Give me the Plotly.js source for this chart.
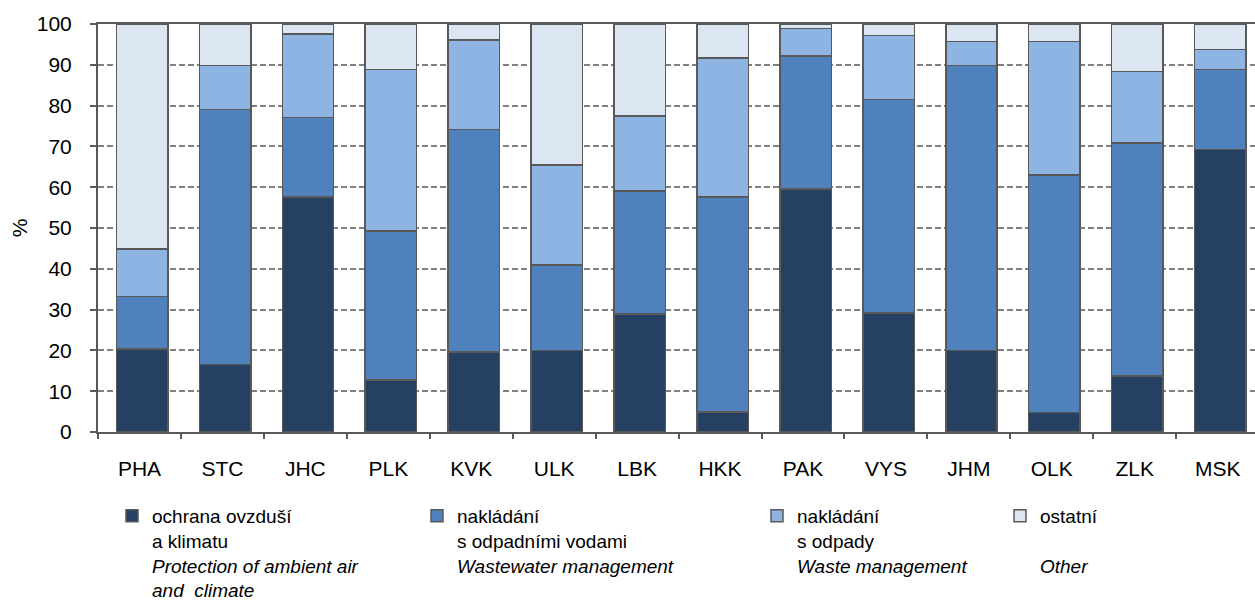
<!DOCTYPE html>
<html>
<head>
<meta charset="utf-8">
<script src="https://cdn.plot.ly/plotly-3.0.1.min.js"></script>
<style>html,body{margin:0;padding:0;background:#fff;}#chart{width:1255px;height:601px;}</style>
</head>
<body>
<div id="chart"></div>
<script>
// Regions (kraje)
var regions = ["PHA","STC","JHC","PLK","KVK","ULK","LBK","HKK","PAK","VYS","JHM","OLK","ZLK","MSK"];

// Shares in %
var airClimate   = [20.4, 16.6, 57.6, 12.7, 19.6, 20.0, 28.9,  4.9, 59.6, 29.2, 20.0,  4.8, 13.7, 69.3];
var wastewater   = [12.8, 62.5, 19.5, 36.6, 54.6, 20.9, 30.2, 52.7, 32.6, 52.3, 69.8, 58.2, 57.1, 19.5];
var waste        = [11.7, 10.7, 20.5, 39.5, 21.9, 24.5, 18.4, 34.1,  6.7, 15.7,  5.9, 32.7, 17.6,  4.9];
var other        = [55.1, 10.2,  2.4, 11.2,  3.9, 34.6, 22.5,  8.3,  1.1,  2.8,  4.3,  4.3, 11.6,  6.3];

var seriesNames = [
  "ochrana ovzduší<br>a klimatu<br><i>Protection of ambient air</i><br><i>and  climate</i>",
  "nakládání<br>s odpadními vodami<br><i>Wastewater management</i>",
  "nakládání<br>s odpady<br><i>Waste management</i>",
  "ostatní<br>\u00a0<br><i>Other</i>"
];
var seriesValues = [airClimate, wastewater, waste, other];
var seriesColors = ["#264061", "#4F81BD", "#8EB4E3", "#DCE6F2"];
var legendIds = ["legend", "legend2", "legend3", "legend4"];
var legendTextStartPx = [152, 457, 797, 1040];

var plotLeft = 98, plotWidth = 1157, plotTop = 24, plotHeight = 408;

var traces = seriesValues.map(function (vals, i) {
  return {
    type: "bar",
    x: regions,
    y: vals,
    name: seriesNames[i],
    legend: legendIds[i],
    width: 0.62,
    offset: -0.278,
    marker: {color: seriesColors[i], line: {color: "#595959", width: 1.5}},
    hoverinfo: "x+y"
  };
});

var legendFont = {family: "Liberation Sans, Arial, sans-serif", size: 19, color: "#000"};
function legendAt(i) {
  return {
    x: (legendTextStartPx[i] - 40 - plotLeft) / plotWidth,
    xanchor: "left",
    y: (plotTop + plotHeight - 497) / plotHeight,
    yanchor: "top",
    orientation: "v",
    valign: "top",
    bgcolor: "rgba(0,0,0,0)",
    borderwidth: 0,
    font: legendFont,
    itemclick: false,
    itemdoubleclick: false
  };
}

var layout = {
  width: 1255,
  height: 601,
  margin: {l: plotLeft, r: 0, t: plotTop, b: 601 - plotTop - plotHeight, pad: 0, autoexpand: false},
  paper_bgcolor: "#fff",
  plot_bgcolor: "#fff",
  barmode: "stack",
  showlegend: true,
  font: {family: "Liberation Sans, Arial, sans-serif", size: 21, color: "#000"},
  xaxis: {
    type: "category",
    range: [-0.5, 13.45],
    tickson: "boundaries",
    ticks: "outside",
    ticklen: 5,
    tickwidth: 2,
    tickcolor: "#595959",
    showline: true,
    linecolor: "#595959",
    linewidth: 2,
    mirror: true,
    showgrid: false,
    ticklabelstandoff: 17,
    tickfont: {size: 21}
  },
  yaxis: {
    range: [0, 100],
    dtick: 10,
    tick0: 0,
    ticks: "outside",
    ticklen: 6,
    tickwidth: 2,
    tickcolor: "#595959",
    showline: true,
    linecolor: "#595959",
    linewidth: 2,
    showgrid: true,
    gridcolor: "#808080",
    gridwidth: 2,
    griddash: "6px,3px",
    zeroline: false,
    ticklabelstandoff: 14,
    tickfont: {size: 21},
    title: {text: "%", font: {size: 21}, standoff: 3}
  },
  legend: legendAt(0),
  legend2: legendAt(1),
  legend3: legendAt(2),
  legend4: legendAt(3)
};

Plotly.newPlot("chart", traces, layout, {staticPlot: true, displayModeBar: false});
</script>
</body>
</html>
